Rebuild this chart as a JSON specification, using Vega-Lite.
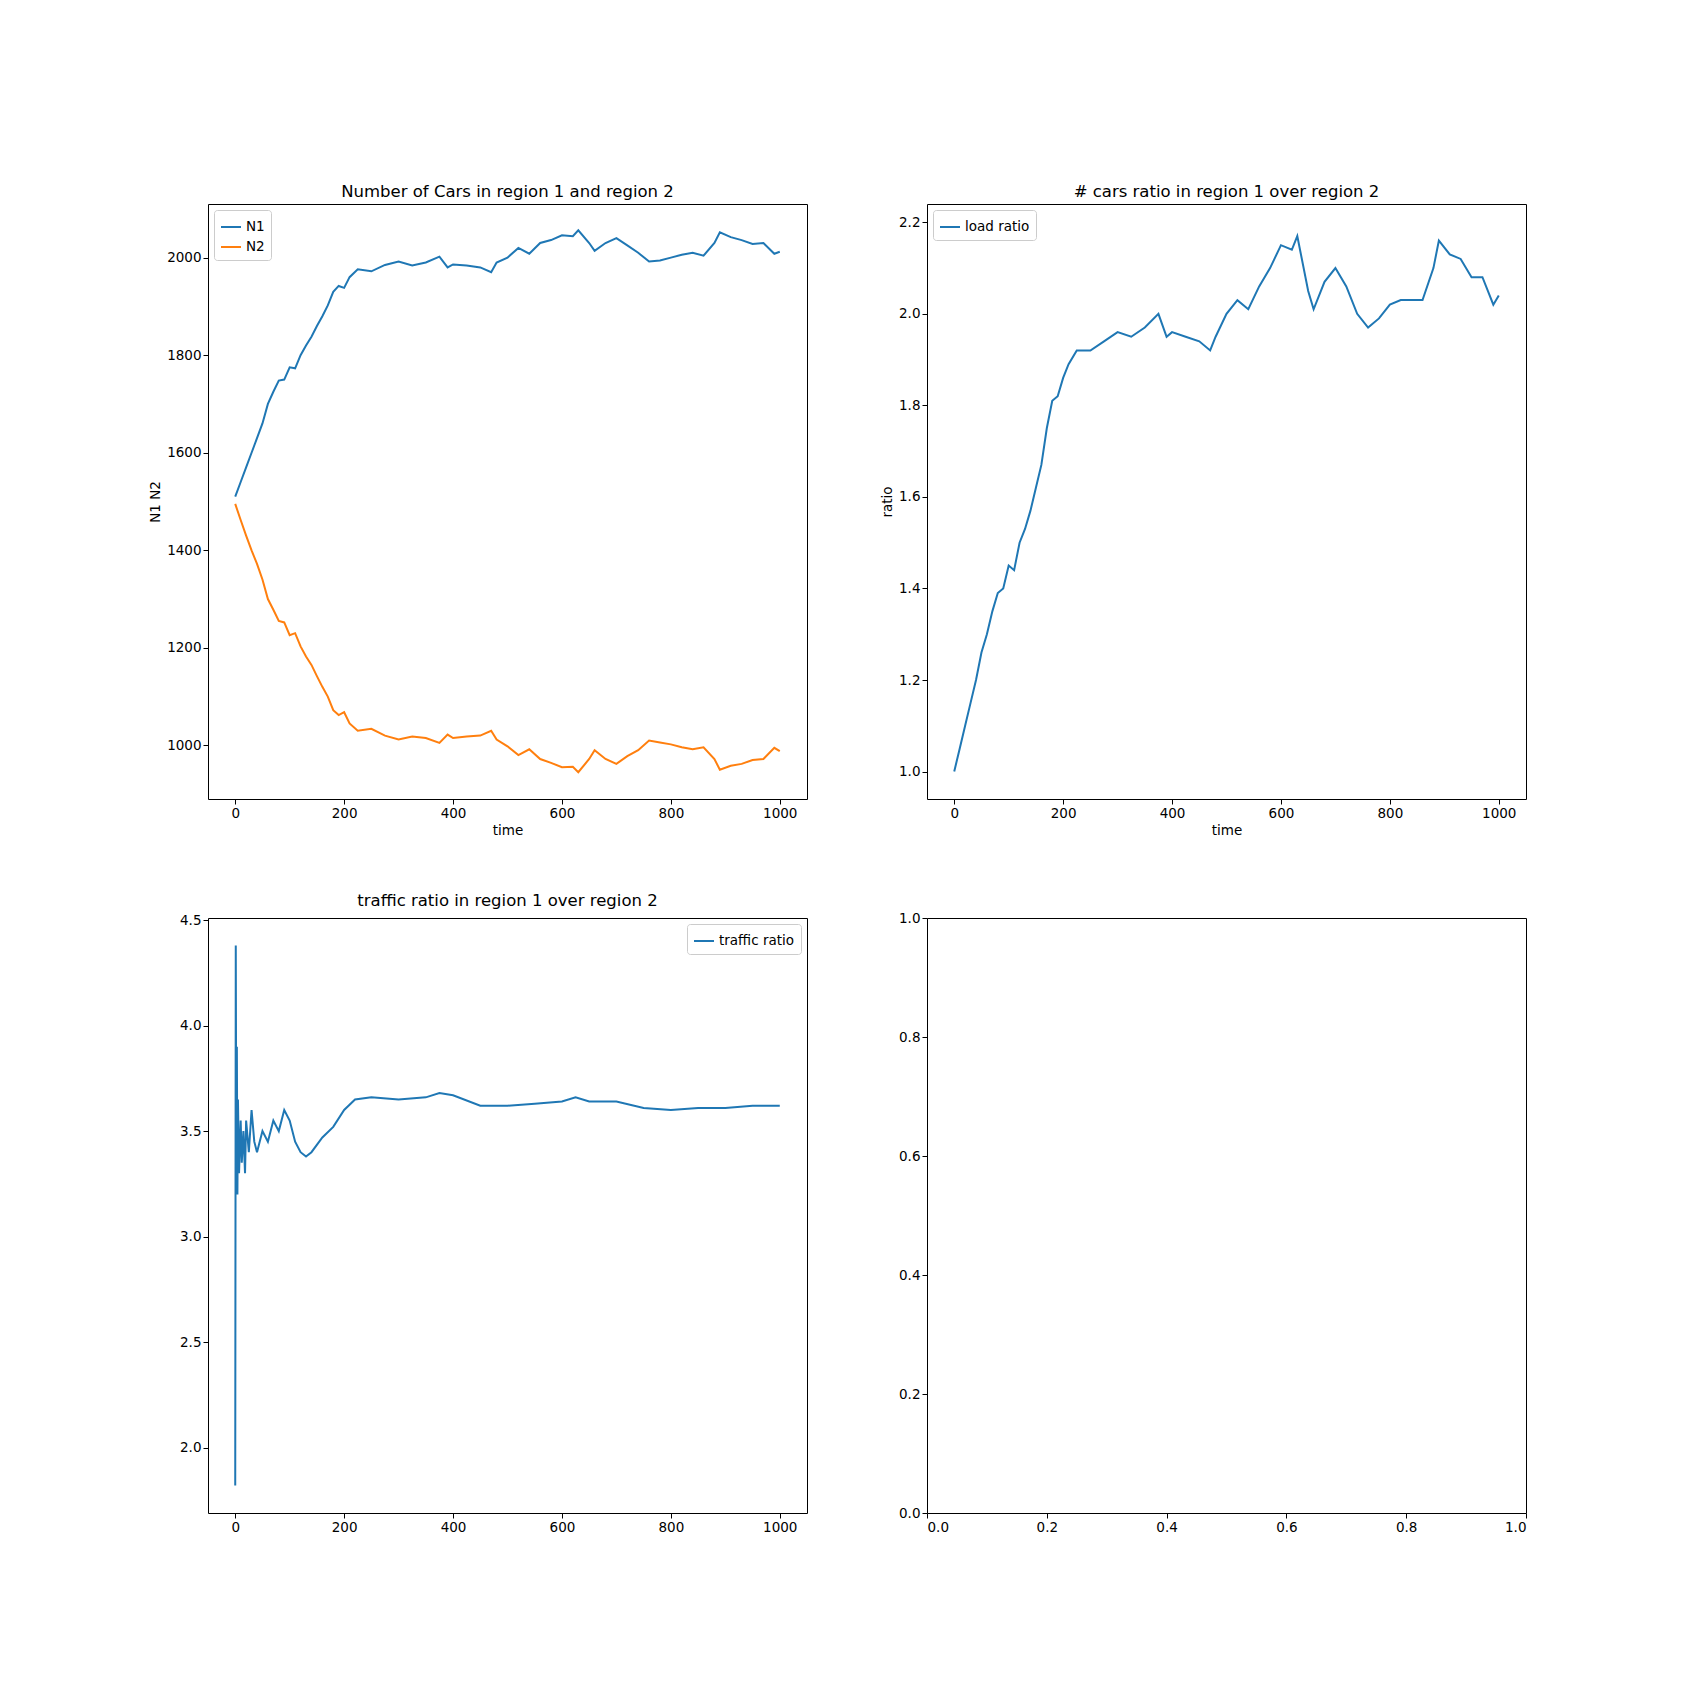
{
  "$schema": "https://vega.github.io/schema/vega-lite/v6.json",
  "padding": {"left": 148, "top": 183, "right": 10, "bottom": 10},
  "background": "white",
  "config": {
    "font": "DejaVu Sans",
    "view": {"stroke": "black", "strokeWidth": 1},
    "axis": {"grid": false, "domain": false, "tickColor": "black", "labelColor": "black", "labelFontSize": 13.5, "titleFontSize": 13.5, "titleFontWeight": "normal", "titleColor": "black", "tickSize": 5},
    "title": {"fontSize": 16.5, "fontWeight": "normal", "color": "black"},
    "legend": {"labelFontSize": 13.5, "symbolType": "stroke", "symbolStrokeWidth": 2, "strokeColor": "#cccccc", "fillColor": "white", "padding": 6, "cornerRadius": 3, "symbolSize": 400, "title": null}
  },
  "datasets": {
    "cars": [
      {"t":0,"v":1510,"s":"N1"},{"t":10,"v":1540,"s":"N1"},{"t":20,"v":1570,"s":"N1"},{"t":30,"v":1600,"s":"N1"},{"t":40,"v":1630,"s":"N1"},{"t":50,"v":1660,"s":"N1"},{"t":60,"v":1700,"s":"N1"},{"t":70,"v":1725,"s":"N1"},{"t":80,"v":1748,"s":"N1"},{"t":90,"v":1750,"s":"N1"},{"t":100,"v":1775,"s":"N1"},{"t":110,"v":1773,"s":"N1"},{"t":120,"v":1800,"s":"N1"},{"t":130,"v":1820,"s":"N1"},{"t":140,"v":1838,"s":"N1"},{"t":150,"v":1860,"s":"N1"},{"t":160,"v":1880,"s":"N1"},{"t":170,"v":1902,"s":"N1"},{"t":180,"v":1930,"s":"N1"},{"t":190,"v":1942,"s":"N1"},{"t":200,"v":1938,"s":"N1"},{"t":210,"v":1960,"s":"N1"},{"t":225,"v":1976,"s":"N1"},{"t":250,"v":1972,"s":"N1"},{"t":275,"v":1985,"s":"N1"},{"t":300,"v":1992,"s":"N1"},{"t":325,"v":1984,"s":"N1"},{"t":350,"v":1990,"s":"N1"},{"t":375,"v":2002,"s":"N1"},{"t":390,"v":1980,"s":"N1"},{"t":400,"v":1986,"s":"N1"},{"t":425,"v":1984,"s":"N1"},{"t":450,"v":1980,"s":"N1"},{"t":470,"v":1970,"s":"N1"},{"t":480,"v":1990,"s":"N1"},{"t":500,"v":2000,"s":"N1"},{"t":520,"v":2020,"s":"N1"},{"t":540,"v":2008,"s":"N1"},{"t":560,"v":2030,"s":"N1"},{"t":580,"v":2036,"s":"N1"},{"t":600,"v":2046,"s":"N1"},{"t":620,"v":2044,"s":"N1"},{"t":630,"v":2056,"s":"N1"},{"t":650,"v":2030,"s":"N1"},{"t":660,"v":2014,"s":"N1"},{"t":680,"v":2030,"s":"N1"},{"t":700,"v":2040,"s":"N1"},{"t":720,"v":2025,"s":"N1"},{"t":740,"v":2010,"s":"N1"},{"t":760,"v":1992,"s":"N1"},{"t":780,"v":1994,"s":"N1"},{"t":800,"v":2000,"s":"N1"},{"t":820,"v":2006,"s":"N1"},{"t":840,"v":2010,"s":"N1"},{"t":860,"v":2004,"s":"N1"},{"t":880,"v":2030,"s":"N1"},{"t":890,"v":2052,"s":"N1"},{"t":910,"v":2042,"s":"N1"},{"t":930,"v":2036,"s":"N1"},{"t":950,"v":2028,"s":"N1"},{"t":970,"v":2030,"s":"N1"},{"t":990,"v":2008,"s":"N1"},{"t":1000,"v":2012,"s":"N1"},
      {"t":0,"v":1495,"s":"N2"},{"t":10,"v":1462,"s":"N2"},{"t":20,"v":1430,"s":"N2"},{"t":30,"v":1400,"s":"N2"},{"t":40,"v":1372,"s":"N2"},{"t":50,"v":1340,"s":"N2"},{"t":60,"v":1300,"s":"N2"},{"t":70,"v":1278,"s":"N2"},{"t":80,"v":1255,"s":"N2"},{"t":90,"v":1252,"s":"N2"},{"t":100,"v":1226,"s":"N2"},{"t":110,"v":1230,"s":"N2"},{"t":120,"v":1203,"s":"N2"},{"t":130,"v":1182,"s":"N2"},{"t":140,"v":1165,"s":"N2"},{"t":150,"v":1142,"s":"N2"},{"t":160,"v":1120,"s":"N2"},{"t":170,"v":1100,"s":"N2"},{"t":180,"v":1072,"s":"N2"},{"t":190,"v":1062,"s":"N2"},{"t":200,"v":1068,"s":"N2"},{"t":210,"v":1045,"s":"N2"},{"t":225,"v":1030,"s":"N2"},{"t":250,"v":1034,"s":"N2"},{"t":275,"v":1020,"s":"N2"},{"t":300,"v":1012,"s":"N2"},{"t":325,"v":1018,"s":"N2"},{"t":350,"v":1015,"s":"N2"},{"t":375,"v":1005,"s":"N2"},{"t":390,"v":1022,"s":"N2"},{"t":400,"v":1015,"s":"N2"},{"t":425,"v":1018,"s":"N2"},{"t":450,"v":1020,"s":"N2"},{"t":470,"v":1030,"s":"N2"},{"t":480,"v":1012,"s":"N2"},{"t":500,"v":998,"s":"N2"},{"t":520,"v":980,"s":"N2"},{"t":540,"v":992,"s":"N2"},{"t":560,"v":972,"s":"N2"},{"t":580,"v":964,"s":"N2"},{"t":600,"v":955,"s":"N2"},{"t":620,"v":956,"s":"N2"},{"t":630,"v":945,"s":"N2"},{"t":650,"v":972,"s":"N2"},{"t":660,"v":990,"s":"N2"},{"t":680,"v":972,"s":"N2"},{"t":700,"v":962,"s":"N2"},{"t":720,"v":978,"s":"N2"},{"t":740,"v":990,"s":"N2"},{"t":760,"v":1010,"s":"N2"},{"t":780,"v":1006,"s":"N2"},{"t":800,"v":1002,"s":"N2"},{"t":820,"v":996,"s":"N2"},{"t":840,"v":992,"s":"N2"},{"t":860,"v":996,"s":"N2"},{"t":880,"v":972,"s":"N2"},{"t":890,"v":950,"s":"N2"},{"t":910,"v":958,"s":"N2"},{"t":930,"v":962,"s":"N2"},{"t":950,"v":970,"s":"N2"},{"t":970,"v":972,"s":"N2"},{"t":990,"v":995,"s":"N2"},{"t":1000,"v":988,"s":"N2"}
    ],
    "load": [
      {"t":0,"v":1.0,"s":"load ratio"},{"t":10,"v":1.05,"s":"load ratio"},{"t":20,"v":1.1,"s":"load ratio"},{"t":30,"v":1.15,"s":"load ratio"},{"t":40,"v":1.2,"s":"load ratio"},{"t":50,"v":1.26,"s":"load ratio"},{"t":60,"v":1.3,"s":"load ratio"},{"t":70,"v":1.35,"s":"load ratio"},{"t":80,"v":1.39,"s":"load ratio"},{"t":90,"v":1.4,"s":"load ratio"},{"t":100,"v":1.45,"s":"load ratio"},{"t":110,"v":1.44,"s":"load ratio"},{"t":120,"v":1.5,"s":"load ratio"},{"t":130,"v":1.53,"s":"load ratio"},{"t":140,"v":1.57,"s":"load ratio"},{"t":150,"v":1.62,"s":"load ratio"},{"t":160,"v":1.67,"s":"load ratio"},{"t":170,"v":1.75,"s":"load ratio"},{"t":180,"v":1.81,"s":"load ratio"},{"t":190,"v":1.82,"s":"load ratio"},{"t":200,"v":1.86,"s":"load ratio"},{"t":210,"v":1.89,"s":"load ratio"},{"t":225,"v":1.92,"s":"load ratio"},{"t":250,"v":1.92,"s":"load ratio"},{"t":275,"v":1.94,"s":"load ratio"},{"t":300,"v":1.96,"s":"load ratio"},{"t":325,"v":1.95,"s":"load ratio"},{"t":350,"v":1.97,"s":"load ratio"},{"t":375,"v":2.0,"s":"load ratio"},{"t":390,"v":1.95,"s":"load ratio"},{"t":400,"v":1.96,"s":"load ratio"},{"t":425,"v":1.95,"s":"load ratio"},{"t":450,"v":1.94,"s":"load ratio"},{"t":470,"v":1.92,"s":"load ratio"},{"t":480,"v":1.95,"s":"load ratio"},{"t":500,"v":2.0,"s":"load ratio"},{"t":520,"v":2.03,"s":"load ratio"},{"t":540,"v":2.01,"s":"load ratio"},{"t":560,"v":2.06,"s":"load ratio"},{"t":580,"v":2.1,"s":"load ratio"},{"t":600,"v":2.15,"s":"load ratio"},{"t":620,"v":2.14,"s":"load ratio"},{"t":630,"v":2.17,"s":"load ratio"},{"t":650,"v":2.05,"s":"load ratio"},{"t":660,"v":2.01,"s":"load ratio"},{"t":680,"v":2.07,"s":"load ratio"},{"t":700,"v":2.1,"s":"load ratio"},{"t":720,"v":2.06,"s":"load ratio"},{"t":740,"v":2.0,"s":"load ratio"},{"t":760,"v":1.97,"s":"load ratio"},{"t":780,"v":1.99,"s":"load ratio"},{"t":800,"v":2.02,"s":"load ratio"},{"t":820,"v":2.03,"s":"load ratio"},{"t":840,"v":2.03,"s":"load ratio"},{"t":860,"v":2.03,"s":"load ratio"},{"t":880,"v":2.1,"s":"load ratio"},{"t":890,"v":2.16,"s":"load ratio"},{"t":910,"v":2.13,"s":"load ratio"},{"t":930,"v":2.12,"s":"load ratio"},{"t":950,"v":2.08,"s":"load ratio"},{"t":970,"v":2.08,"s":"load ratio"},{"t":990,"v":2.02,"s":"load ratio"},{"t":1000,"v":2.04,"s":"load ratio"}
    ],
    "traffic": [
      {"t":0,"v":1.82,"s":"traffic ratio"},{"t":1,"v":4.38,"s":"traffic ratio"},{"t":2,"v":3.3,"s":"traffic ratio"},{"t":3,"v":3.9,"s":"traffic ratio"},{"t":4,"v":3.2,"s":"traffic ratio"},{"t":5,"v":3.65,"s":"traffic ratio"},{"t":7,"v":3.3,"s":"traffic ratio"},{"t":10,"v":3.55,"s":"traffic ratio"},{"t":12,"v":3.35,"s":"traffic ratio"},{"t":15,"v":3.5,"s":"traffic ratio"},{"t":18,"v":3.3,"s":"traffic ratio"},{"t":20,"v":3.55,"s":"traffic ratio"},{"t":25,"v":3.4,"s":"traffic ratio"},{"t":30,"v":3.6,"s":"traffic ratio"},{"t":35,"v":3.45,"s":"traffic ratio"},{"t":40,"v":3.4,"s":"traffic ratio"},{"t":50,"v":3.5,"s":"traffic ratio"},{"t":60,"v":3.45,"s":"traffic ratio"},{"t":70,"v":3.55,"s":"traffic ratio"},{"t":80,"v":3.5,"s":"traffic ratio"},{"t":90,"v":3.6,"s":"traffic ratio"},{"t":100,"v":3.55,"s":"traffic ratio"},{"t":110,"v":3.45,"s":"traffic ratio"},{"t":120,"v":3.4,"s":"traffic ratio"},{"t":130,"v":3.38,"s":"traffic ratio"},{"t":140,"v":3.4,"s":"traffic ratio"},{"t":160,"v":3.47,"s":"traffic ratio"},{"t":180,"v":3.52,"s":"traffic ratio"},{"t":200,"v":3.6,"s":"traffic ratio"},{"t":220,"v":3.65,"s":"traffic ratio"},{"t":250,"v":3.66,"s":"traffic ratio"},{"t":300,"v":3.65,"s":"traffic ratio"},{"t":350,"v":3.66,"s":"traffic ratio"},{"t":375,"v":3.68,"s":"traffic ratio"},{"t":400,"v":3.67,"s":"traffic ratio"},{"t":450,"v":3.62,"s":"traffic ratio"},{"t":500,"v":3.62,"s":"traffic ratio"},{"t":550,"v":3.63,"s":"traffic ratio"},{"t":600,"v":3.64,"s":"traffic ratio"},{"t":625,"v":3.66,"s":"traffic ratio"},{"t":650,"v":3.64,"s":"traffic ratio"},{"t":700,"v":3.64,"s":"traffic ratio"},{"t":750,"v":3.61,"s":"traffic ratio"},{"t":800,"v":3.6,"s":"traffic ratio"},{"t":850,"v":3.61,"s":"traffic ratio"},{"t":900,"v":3.61,"s":"traffic ratio"},{"t":950,"v":3.62,"s":"traffic ratio"},{"t":1000,"v":3.62,"s":"traffic ratio"}
    ]
  },
  "columns": 2,
  "bounds": "flush",
  "spacing": {"column": 120, "row": 119},
  "resolve": {"scale": {"color": "independent"}, "legend": {"color": "independent"}},
  "concat": [
    {
      "title": "Number of Cars in region 1 and region 2",
      "width": 599, "height": 595,
      "data": {"name": "cars"},
      "mark": {"type": "line", "strokeWidth": 2},
      "encoding": {
        "x": {"field": "t", "type": "quantitative", "title": "time", "scale": {"domain": [-50, 1050], "nice": false}, "axis": {"values": [0, 200, 400, 600, 800, 1000], "format": "d"}},
        "y": {"field": "v", "type": "quantitative", "title": "N1 N2", "scale": {"domain": [890, 2110], "nice": false, "zero": false}, "axis": {"values": [1000, 1200, 1400, 1600, 1800, 2000], "format": "d"}},
        "color": {"field": "s", "type": "nominal", "scale": {"domain": ["N1", "N2"], "range": ["#1f77b4", "#ff7f0e"]}, "legend": {"orient": "top-left", "offset": 6}}
      }
    },
    {
      "title": "# cars ratio in region 1 over region 2",
      "width": 599, "height": 595,
      "data": {"name": "load"},
      "mark": {"type": "line", "strokeWidth": 2},
      "encoding": {
        "x": {"field": "t", "type": "quantitative", "title": "time", "scale": {"domain": [-50, 1050], "nice": false}, "axis": {"values": [0, 200, 400, 600, 800, 1000], "format": "d"}},
        "y": {"field": "v", "type": "quantitative", "title": "ratio", "scale": {"domain": [0.94, 2.24], "nice": false, "zero": false}, "axis": {"values": [1.0, 1.2, 1.4, 1.6, 1.8, 2.0, 2.2], "format": ".1f"}},
        "color": {"field": "s", "type": "nominal", "scale": {"range": ["#1f77b4"]}, "legend": {"orient": "top-left", "offset": 6}}
      }
    },
    {
      "title": "traffic ratio in region 1 over region 2",
      "width": 599, "height": 595,
      "data": {"name": "traffic"},
      "mark": {"type": "line", "strokeWidth": 2},
      "encoding": {
        "x": {"field": "t", "type": "quantitative", "title": null, "scale": {"domain": [-50, 1050], "nice": false}, "axis": {"values": [0, 200, 400, 600, 800, 1000], "format": "d"}},
        "y": {"field": "v", "type": "quantitative", "title": null, "scale": {"domain": [1.69, 4.51], "nice": false, "zero": false}, "axis": {"values": [2.0, 2.5, 3.0, 3.5, 4.0, 4.5], "format": ".1f"}},
        "color": {"field": "s", "type": "nominal", "scale": {"range": ["#1f77b4"]}, "legend": {"orient": "top-right", "offset": 6}}
      }
    },
    {
      "width": 599, "height": 595,
      "data": {"values": []},
      "mark": "point",
      "encoding": {
        "x": {"field": "x", "type": "quantitative", "title": null, "scale": {"domain": [0, 1], "nice": false}, "axis": {"values": [0, 0.2, 0.4, 0.6, 0.8, 1.0], "format": ".1f"}},
        "y": {"field": "y", "type": "quantitative", "title": null, "scale": {"domain": [0, 1], "nice": false}, "axis": {"values": [0, 0.2, 0.4, 0.6, 0.8, 1.0], "format": ".1f"}}
      }
    }
  ]
}
